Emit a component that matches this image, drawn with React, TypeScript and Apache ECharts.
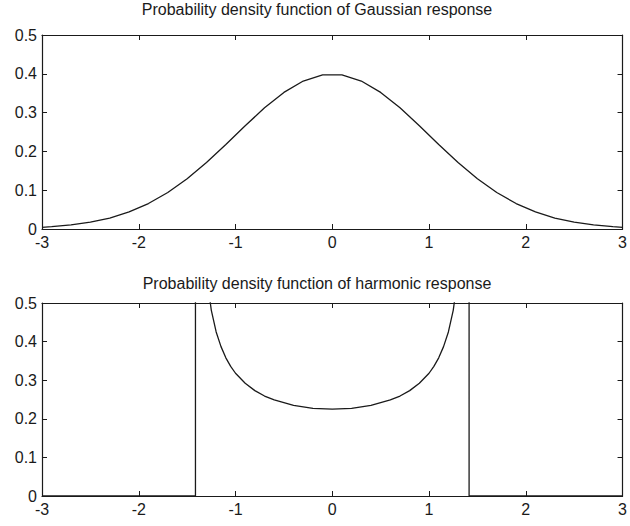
import React, { useEffect, useRef } from "react";
import * as echarts from "echarts";

const gaussX = [-3, -2.9, -2.7, -2.5, -2.3, -2.1, -1.9, -1.7, -1.5, -1.3, -1.1, -0.9, -0.7, -0.5, -0.3, -0.1, 0.1, 0.3, 0.5, 0.7, 0.9, 1.1, 1.3, 1.5, 1.7, 1.9, 2.1, 2.3, 2.5, 2.7, 2.9, 3];
const gaussY = [0.0044, 0.006, 0.0104, 0.0175, 0.0283, 0.044, 0.0656, 0.094, 0.1295, 0.1714, 0.2179, 0.2661, 0.3123, 0.3521, 0.3814, 0.397, 0.397, 0.3814, 0.3521, 0.3123, 0.2661, 0.2179, 0.1714, 0.1295, 0.094, 0.0656, 0.044, 0.0283, 0.0175, 0.0104, 0.006, 0.0044];

const harmX = [-3, -1.414, -1.414, -1.4, -1.35, -1.3, -1.25, -1.2, -1.15, -1.1, -1.05, -1.0, -0.9, -0.8, -0.7, -0.6, -0.4, -0.2, 0, 0.2, 0.4, 0.6, 0.7, 0.8, 0.9, 1.0, 1.05, 1.1, 1.15, 1.2, 1.25, 1.3, 1.35, 1.4, 1.414, 1.414, 3];
const harmY = [0, 0, 5, 1.59, 0.756, 0.572, 0.481, 0.425, 0.387, 0.358, 0.336, 0.318, 0.292, 0.273, 0.259, 0.249, 0.235, 0.227, 0.225, 0.227, 0.235, 0.249, 0.259, 0.273, 0.292, 0.318, 0.336, 0.358, 0.387, 0.425, 0.481, 0.572, 0.756, 1.59, 5, 0, 0];

const xTicks = { min: -3, max: 3, interval: 1 };
const yTicks = { min: 0, max: 0.5, interval: 0.1 };
const titles = ["Probability density function of Gaussian response", "Probability density function of harmonic response"];

const FONT = "Liberation Sans, Arial, Helvetica, sans-serif";
const INK = "#1a1a1a";

export default function App() {
  const ref = useRef<HTMLDivElement>(null);
  useEffect(() => {
    const chart = echarts.init(ref.current!, undefined, { renderer: "svg" });
    const grids = [
      { left: 42, top: 35, width: 582, height: 194 },
      { left: 42, top: 303, width: 583, height: 193 },
    ];
    const xAxes: any[] = [];
    const yAxes: any[] = [];
    grids.forEach((_, gi) => {
      const base = {
        type: "value",
        gridIndex: gi,
        ...xTicks,
        splitLine: { show: false },
        axisLine: { show: true, onZero: false, lineStyle: { color: INK, width: 1.2 } },
        axisTick: { show: true, inside: true, length: 5, lineStyle: { color: INK } },
      };
      xAxes.push({
        ...base,
        position: "bottom",
        axisLabel: { show: true, color: INK, fontFamily: FONT, fontSize: 16, margin: 5 },
      });
      xAxes.push({ ...base, position: "top", axisLabel: { show: false } });
      const ybase = {
        type: "value",
        gridIndex: gi,
        ...yTicks,
        splitLine: { show: false },
        axisLine: { show: true, onZero: false, lineStyle: { color: INK, width: 1.2 } },
        axisTick: { show: true, inside: true, length: 5, lineStyle: { color: INK } },
      };
      yAxes.push({
        ...ybase,
        position: "left",
        axisLabel: { show: true, color: INK, fontFamily: FONT, fontSize: 16, margin: 5 },
      });
      yAxes.push({ ...ybase, position: "right", axisLabel: { show: false } });
    });
    chart.setOption({
      animation: false,
      backgroundColor: "#ffffff",
      title: titles.map((t, i) => ({
        text: t,
        left: 317,
        textAlign: "center",
        top: i === 0 ? 1 : 275,
        padding: 0,
        textStyle: { fontFamily: FONT, fontSize: 16, fontWeight: "normal", color: INK },
      })),
      grid: grids,
      xAxis: xAxes,
      yAxis: yAxes,
      series: [
        {
          type: "line",
          xAxisIndex: 0,
          yAxisIndex: 0,
          data: gaussX.map((x, i) => [x, gaussY[i]]),
          showSymbol: false,
          lineStyle: { color: INK, width: 1.3 },
          clip: true,
        },
        {
          type: "line",
          xAxisIndex: 2,
          yAxisIndex: 2,
          data: harmX.map((x, i) => [x, harmY[i]]),
          showSymbol: false,
          lineStyle: { color: INK, width: 1.3 },
          clip: true,
        },
      ],
    });
    return () => chart.dispose();
  }, []);
  return <div ref={ref} style={{ position: "fixed", left: 0, top: 0, width: 630, height: 526 }} />;
}
